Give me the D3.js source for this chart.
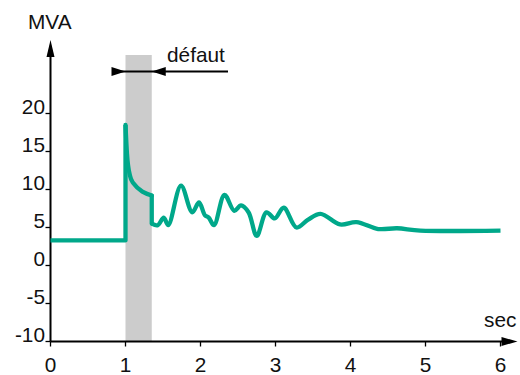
<!DOCTYPE html>
<html><head><meta charset="utf-8">
<script src="https://cdn.jsdelivr.net/npm/d3@7"></script>
<style>
html,body{margin:0;padding:0;background:#fff;}
svg text{font-family:"Liberation Sans",Arial,sans-serif;font-size:20.8px;fill:#111;}
</style></head>
<body><svg id="c" width="520" height="375"></svg>
<script>
// ---- data ----
const yTicks = [-10, -5, 0, 5, 10, 15, 20];
const xTicks = [0, 1, 2, 3, 4, 5, 6];
const yLabel = "MVA";
const xLabel = "sec";
const faultLabel = "défaut";
const faultStart = 1.0, faultEnd = 1.35;
// pre-fault level and step
const preFault = [[0, 3.3], [1.0, 3.3], [1.0, 18.5]];
// decay during fault
const faultDecay = [[1.0, 18.5], [1.02, 14.7], [1.06, 11.8], [1.10, 10.9], [1.35, 9.2]];
// drop on clearance
const clearance = [[1.35, 9.2], [1.35, 5.5]];
// post-fault oscillation
const postFault = [[1.35, 5.5], [1.43, 5.3], [1.51, 6.3], [1.57, 5.3], [1.74, 10.5], [1.89, 7.0],
  [1.98, 8.3], [2.06, 6.6], [2.11, 6.3], [2.18, 5.3], [2.32, 9.3], [2.45, 7.2], [2.54, 7.9],
  [2.64, 7.0], [2.75, 3.9], [2.88, 7.0], [2.99, 6.2], [3.11, 7.6], [3.28, 5.0], [3.43, 6.0],
  [3.60, 6.8], [3.86, 5.4], [4.08, 5.7], [4.37, 4.8], [4.62, 4.9], [4.93, 4.6], [6.0, 4.6]];

// ---- drawing ----
const svg = d3.select("#c");
const x = d3.scaleLinear().domain([0, 6]).range([50.5, 500.5]);
const y = d3.scaleLinear().domain([-10, 20]).range([341.5, 113.5]);
const teal = "#00a88a";

// fault band
svg.append("rect").attr("x", x(faultStart)).attr("y", 55)
  .attr("width", x(faultEnd) - x(faultStart)).attr("height", y(-10) - 55)
  .attr("fill", "#cccccc");

// axes lines
svg.append("line").attr("x1", x(0)).attr("x2", 503).attr("y1", y(-10)).attr("y2", y(-10))
  .attr("stroke", "#000").attr("stroke-width", 2);
svg.append("line").attr("x1", x(0)).attr("x2", x(0)).attr("y1", y(-10)).attr("y2", 56)
  .attr("stroke", "#000").attr("stroke-width", 2);
// arrowheads
svg.append("path").attr("d", `M${x(6)+17},${y(-10)} L${x(6)+1},${y(-10)-4.5} L${x(6)+1},${y(-10)+4.5}Z`).attr("fill", "#000");
svg.append("path").attr("d", `M${x(0)},40 L${x(0)-4},57 L${x(0)+4},57Z`).attr("fill", "#000");

// y ticks
svg.append("g").selectAll("line").data(yTicks).join("line")
  .attr("x1", x(0) - 5).attr("x2", x(0)).attr("y1", d => y(d)).attr("y2", d => y(d))
  .attr("stroke", "#000").attr("stroke-width", 1.3);
svg.append("g").selectAll("text").data(yTicks).join("text")
  .attr("x", 45).attr("y", d => y(d) + 0.5).attr("text-anchor", "end")
  .text(d => d);
// x ticks
svg.append("g").selectAll("line").data(xTicks).join("line")
  .attr("x1", d => x(d)).attr("x2", d => x(d)).attr("y1", y(-10)).attr("y2", y(-10) + 5)
  .attr("stroke", "#000").attr("stroke-width", 1.3);
svg.append("g").selectAll("text").data(xTicks).join("text")
  .attr("x", d => x(d)).attr("y", 372).attr("text-anchor", "middle")
  .text(d => d);

svg.append("text").attr("x", 28).attr("y", 28.5).text(yLabel);
svg.append("text").attr("x", 484).attr("y", 327).text(xLabel);

// fault duration indicator
svg.append("line").attr("x1", 112).attr("x2", 228).attr("y1", 71.5).attr("y2", 71.5)
  .attr("stroke", "#000").attr("stroke-width", 2);
svg.append("path").attr("d", `M${x(faultStart)},71.5 L${x(faultStart)-14},67 L${x(faultStart)-14},76Z`).attr("fill", "#000");
svg.append("path").attr("d", `M${x(faultEnd)},71.5 L${x(faultEnd)+14},67 L${x(faultEnd)+14},76Z`).attr("fill", "#000");
svg.append("text").attr("x", 167).attr("y", 61.5).text(faultLabel);

// series
const style = p => p.attr("fill", "none").attr("stroke", teal).attr("stroke-width", 4.3)
  .attr("stroke-linejoin", "round").attr("stroke-linecap", "round");
const lin = d3.line().x(d => x(d[0])).y(d => y(d[1]));
const mono = d3.line().x(d => x(d[0])).y(d => y(d[1])).curve(d3.curveMonotoneX);
const smooth = d3.line().x(d => x(d[0])).y(d => y(d[1])).curve(d3.curveCatmullRom.alpha(0.5));
svg.append("path").attr("d", lin(preFault)).call(style).attr("stroke-linecap", "butt");
svg.append("path").attr("d", mono(faultDecay)).call(style);
svg.append("path").attr("d", lin(clearance)).call(style);
svg.append("path").attr("d", smooth(postFault)).call(style).attr("stroke-linecap", "butt");
</script></body></html>
